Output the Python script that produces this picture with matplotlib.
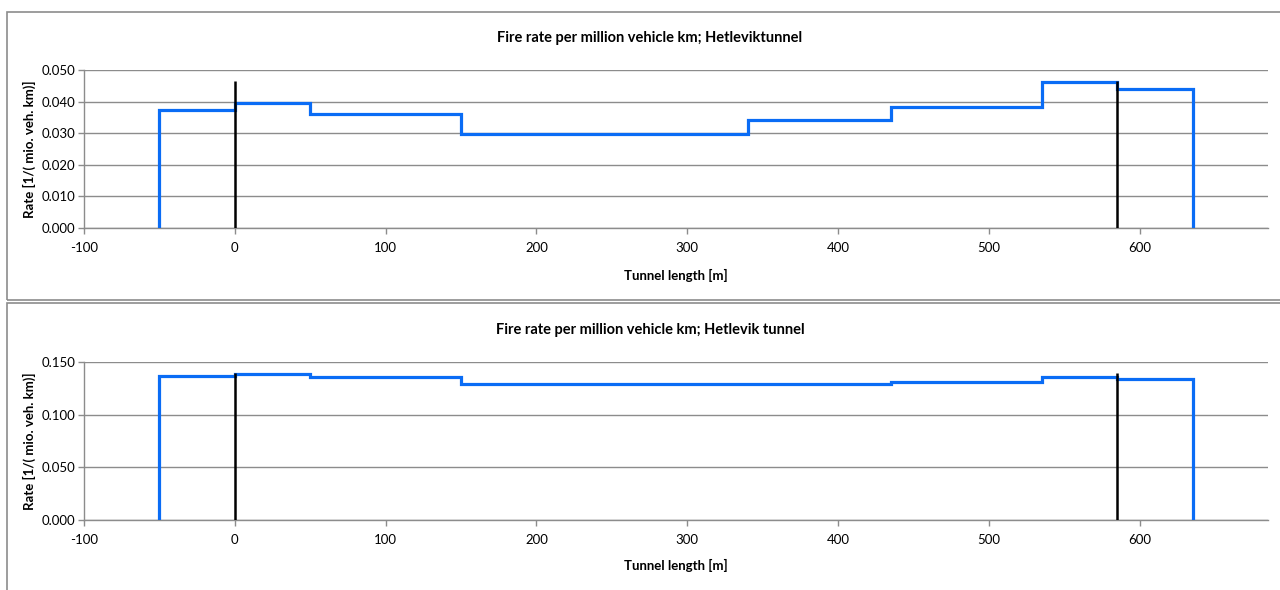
import matplotlib.pyplot as plt
import matplotlib.ticker as ticker
from matplotlib.patches import Rectangle

plt.rcParams['font.family'] = ['Lato', 'DejaVu Sans']
plt.rcParams['axes.unicode_minus'] = False

# section boundaries along the tunnel [m]
edges = [-50, 0, 50, 150, 340, 435, 535, 585, 635]
edges_b = [-50, 0, 50, 150, 435, 535, 585, 635]

# fire rate per section [1/(mio. veh. km)]
rate_top = [0.0373, 0.0397, 0.0362, 0.0298, 0.0342, 0.0382, 0.0462, 0.0441]
rate_bottom = [0.1364, 0.1386, 0.1355, 0.1294, 0.1313, 0.1355, 0.1342]

# tunnel portals
portals = [0, 585]
portal_top = [0.0464, 0.140]

titles = ['Fire rate per million vehicle km; Hetleviktunnel',
          'Fire rate per million vehicle km; Hetlevik tunnel']
ylims = [(0, 0.050), (0, 0.150)]
ysteps = [0.010, 0.050]

fig = plt.figure(figsize=(12.8, 5.9), dpi=100)

# chart frames
fig.patches.append(Rectangle((7 / 1280, 1 - 300 / 590), 1.1, 288 / 590,
                             transform=fig.transFigure, fill=False,
                             edgecolor='#8c8c8c', linewidth=1.2))
fig.patches.append(Rectangle((7 / 1280, -0.1), 1.1, 1 - 303 / 590 + 0.1,
                             transform=fig.transFigure, fill=False,
                             edgecolor='#8c8c8c', linewidth=1.2))

boxes = [[84 / 1280, 1 - 228 / 590, 1184 / 1280, 158 / 590],
         [84 / 1280, 1 - 520 / 590, 1184 / 1280, 158 / 590]]
title_y = [1 - 38 / 590, 1 - 330 / 590]
xlabel_y = [1 - 275 / 590, 1 - 565 / 590]

for i, (e, r) in enumerate([(edges, rate_top), (edges_b, rate_bottom)]):
    ax = fig.add_axes(boxes[i])
    ax.stairs(r, e, baseline=0, color='#0a6cf5', linewidth=2.3, zorder=3)
    ax.vlines(portals, 0, portal_top[i], color='black', linewidth=1.8, zorder=4)

    ax.set_xlim(-100, 685)
    ax.set_ylim(*ylims[i])
    ax.set_xticks(range(-100, 700, 100))
    ax.yaxis.set_major_locator(ticker.MultipleLocator(ysteps[i]))
    ax.yaxis.set_major_formatter(ticker.FormatStrFormatter('%.3f'))
    ax.grid(axis='y', color='#8c8c8c', linewidth=1.0, zorder=0)
    ax.set_axisbelow(True)

    for s in ['top', 'right']:
        ax.spines[s].set_visible(False)
    for s in ['left', 'bottom']:
        ax.spines[s].set_color('#8c8c8c')
        ax.spines[s].set_linewidth(1.0)
    ax.tick_params(axis='both', colors='#8c8c8c', labelcolor='black',
                   labelsize=9.5, length=4, width=1)
    ax.tick_params(axis='x', pad=6)
    ax.tick_params(axis='y', pad=2)

    ax.set_ylabel('Rate [1/( mio. veh. km)]', fontsize=9.5, fontweight='bold',
                  labelpad=4)
    fig.text(676 / 1280, xlabel_y[i], 'Tunnel length [m]', ha='center',
             va='center', fontsize=9.5, fontweight='bold')
    fig.text(650 / 1280, title_y[i], titles[i], ha='center', va='center',
             fontsize=10.5, fontweight='bold')

plt.savefig('out.png', dpi=100)
